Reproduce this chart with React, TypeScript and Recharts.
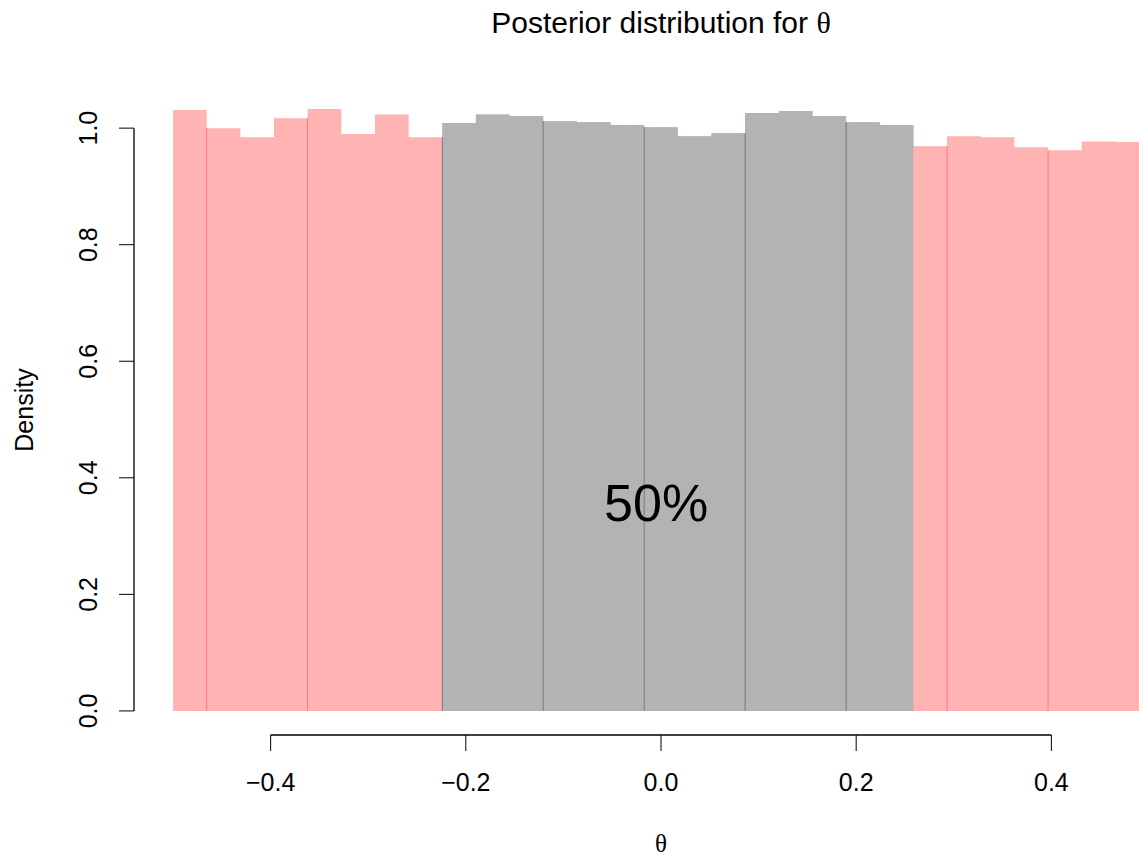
import React from 'react';
import {
  ComposedChart,
  Area,
  XAxis,
  YAxis,
  ReferenceLine,
  ReferenceDot,
} from 'recharts';

// histogram breaks (29 bins on [-0.5, 0.5]) and bin densities
const breaks = [
  -0.5, -0.4655, -0.431, -0.3966, -0.3621, -0.3276, -0.2931, -0.2586, -0.2241, -0.1897,
  -0.1552, -0.1207, -0.0862, -0.0517, -0.0172, 0.0172, 0.0517, 0.0862, 0.1207, 0.1552,
  0.1897, 0.2241, 0.2586, 0.2931, 0.3276, 0.3621, 0.3966, 0.431, 0.4655, 0.5,
];
const density = [
  1.031, 1.0, 0.9845, 1.017, 1.0327, 0.99, 1.0235, 0.9845, 1.0086, 1.0235,
  1.0206, 1.012, 1.0103, 1.0052, 1.0017, 0.9862, 0.9914, 1.0258, 1.0292, 1.0206,
  1.0103, 1.0052, 0.969, 0.986, 0.9845, 0.967, 0.962, 0.977, 0.976,
];

// 50% interval (grey part)
const intervalLow = -0.2241;
const intervalHigh = 0.2586;
const intervalLabel = '50%';
const intervalLabelX = -0.005;
const intervalLabelY = 0.358;

// polygon seams that show as thin darker lines
const seams = [-0.4655, -0.3621, -0.2241, -0.1207, -0.0172, 0.0862, 0.1897, 0.2931, 0.3966];

const xTicks = [-0.4, -0.2, 0, 0.2, 0.4];
const yTicks = [0, 0.2, 0.4, 0.6, 0.8, 1.0];
const xRange = [-0.54, 0.54];
const yRange = [-0.0413, 1.074];

const SANS = '"Liberation Sans", Arial, Helvetica, sans-serif';
const SERIF = '"Liberation Serif", "DejaVu Serif", serif';
const PINK = '#FFB3B3';
const GREY = '#B3B3B3';

const rows = breaks.map((b, i) => {
  const d = density[Math.min(i, density.length - 1)];
  const inside = b >= intervalLow - 1e-9 && b <= intervalHigh + 1e-9;
  return { x: b, all: d, hpd: inside ? d : null };
});

const fmt = (v: number) => v.toFixed(1).replace('-', '\u2212');

const XTick = ({ x, y, payload }: any) => (
  <text x={x} y={y + 40} textAnchor="middle" fontSize={25} fontFamily={SANS} fill="#000">
    {fmt(payload.value)}
  </text>
);

const YTick = ({ x, y, payload }: any) => (
  <text
    x={x - 21.5}
    y={y}
    textAnchor="middle"
    fontSize={25}
    fontFamily={SANS}
    fill="#000"
    transform={`rotate(-90, ${x - 21.5}, ${y})`}
  >
    {fmt(payload.value)}
  </text>
);

const seamTop = (s: number) => {
  const i = breaks.findIndex((b) => Math.abs(b - s) < 1e-6);
  return Math.min(density[i - 1], density[i]);
};

export default function App() {
  return (
    <div
      style={{
        position: 'absolute',
        left: 0,
        top: 0,
        width: 1139,
        height: 856,
        overflow: 'hidden',
        background: '#fff',
      }}
    >
      <ComposedChart
        width={1200}
        height={856}
        data={rows}
        margin={{ top: 85, right: 12, bottom: 0, left: 0 }}
      >
        <XAxis
          dataKey="x"
          type="number"
          domain={xRange}
          allowDataOverflow
          ticks={xTicks}
          interval={0}
          axisLine={false}
          tickLine={{ stroke: '#000' }}
          tickSize={16}
          tickMargin={0}
          height={121}
          tick={<XTick />}
        />
        <YAxis
          type="number"
          domain={yRange}
          allowDataOverflow
          ticks={yTicks}
          interval={0}
          axisLine={false}
          tickLine={{ stroke: '#000' }}
          tickSize={15}
          tickMargin={0}
          width={134}
          tick={<YTick />}
        />
        <Area
          type="stepAfter"
          dataKey="all"
          stroke="none"
          fill={PINK}
          fillOpacity={1}
          baseValue={0}
          dot={false}
          activeDot={false}
          isAnimationActive={false}
        />
        <Area
          type="stepAfter"
          dataKey="hpd"
          stroke="none"
          fill={GREY}
          fillOpacity={1}
          baseValue={0}
          dot={false}
          activeDot={false}
          isAnimationActive={false}
        />
        {seams.map((s) => (
          <ReferenceLine
            key={s}
            segment={[
              { x: s, y: 0 },
              { x: s, y: seamTop(s) },
            ]}
            stroke={s >= intervalLow - 1e-9 && s < intervalHigh ? '#7A7A7A' : '#FF7878'}
            strokeWidth={1}
          />
        ))}
        <ReferenceLine
          segment={[
            { x: xTicks[0], y: yRange[0] },
            { x: xTicks[xTicks.length - 1], y: yRange[0] },
          ]}
          stroke="#000"
          strokeWidth={1.3}
          ifOverflow="visible"
        />
        <ReferenceLine
          segment={[
            { x: xRange[0], y: yTicks[0] },
            { x: xRange[0], y: yTicks[yTicks.length - 1] },
          ]}
          stroke="#000"
          strokeWidth={1.3}
          ifOverflow="visible"
        />
        <ReferenceDot
          x={intervalLabelX}
          y={intervalLabelY}
          r={0}
          fill="none"
          stroke="none"
          label={{
            value: intervalLabel,
            position: 'center',
            fontSize: 52,
            fill: '#000',
            fontFamily: SANS,
          }}
        />
        <text x={661} y={33} textAnchor="middle" fontSize={30} fontFamily={SANS} fill="#000">
          <tspan>Posterior distribution for </tspan>
          <tspan fontFamily={SERIF}>θ</tspan>
        </text>
        <text
          x={32.5}
          y={410}
          textAnchor="middle"
          fontSize={25}
          fontFamily={SANS}
          fill="#000"
          transform="rotate(-90, 32.5, 410)"
        >
          Density
        </text>
        <text x={661} y={852} textAnchor="middle" fontSize={25} fontFamily={SERIF} fill="#000">
          θ
        </text>
      </ComposedChart>
    </div>
  );
}
